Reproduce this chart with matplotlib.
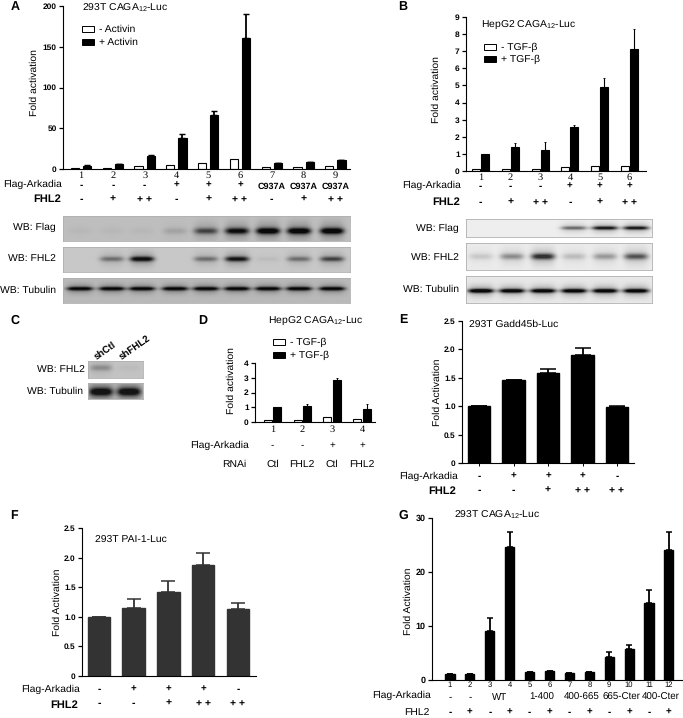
import matplotlib
matplotlib.use("Agg")
import matplotlib.pyplot as plt
import numpy as np
from matplotlib.transforms import blended_transform_factory

W = 683
H = 718

plt.rcParams['font.family'] = ['Liberation Sans', 'DejaVu Sans']
plt.rcParams['mathtext.default'] = 'regular'
plt.rcParams['font.size'] = 7
plt.rcParams['text.hinting'] = 'no_hinting'

# panel A
a_white = [1, 1.8, 3.5, 5.5, 7.5, 12, 2, 2.5, 3.5]
a_black = [4, 6, 15.5, 38.5, 66, 161, 7.5, 8, 11]
a_err = [0.4, 0.6, 2, 5, 5, 29, 0.3, 0.8, 0.5]
a_flag = ['-', '-', '-', '+', '+', '+', 'C937A', 'C937A', 'C937A']
a_fhl2 = ['-', '+', '+ +', '-', '+', '+ +', '-', '+', '+ +']

# panel B
b_white = [0.1, 0.1, 0.1, 0.25, 0.28, 0.28]
b_black = [1.0, 1.38, 1.2, 2.6, 4.9, 7.15]
b_err = [0.02, 0.25, 0.5, 0.1, 0.55, 1.15]
b_flag = ['-', '-', '-', '+', '+', '+']
b_fhl2 = ['-', '+', '+ +', '-', '+', '+ +']

# panel D
d_white = [0.15, 0.15, 0.33, 0.18]
d_black = [1.0, 1.1, 2.85, 0.9]
d_err = [0.05, 0.1, 0.1, 0.35]
d_flag = ['-', '-', '+', '+']
d_rnai = ['Ctl', 'FHL2', 'Ctl', 'FHL2']

# panel E
e_vals = [1.0, 1.47, 1.58, 1.9, 0.98]
e_err = [0, 0, 0.08, 0.13, 0.02]
e_flag = ['-', '+', '+', '+', '-']
e_fhl2 = ['-', '-', '+', '+ +', '+ +']

# panel F
f_vals = [1.0, 1.15, 1.42, 1.87, 1.14]
f_err = [0, 0.15, 0.19, 0.21, 0.1]
f_flag = ['-', '+', '+', '+', '-']
f_fhl2 = ['-', '-', '+', '+ +', '+ +']

# panel G
g_vals = [1.1, 1.1, 9.1, 24.7, 1.5, 1.65, 1.3, 1.45, 4.2, 5.7, 14.3, 24.1]
g_err = [0.1, 0.1, 2.4, 2.8, 0.05, 0.05, 0.05, 0.05, 1.0, 0.7, 2.3, 3.4]
g_flag = ['-', '-', 'WT', '1-400', '400-665', '665-Cter', '400-Cter']
g_flag_pos = [1, 2, 3.5, 5.6, 7.6, 9.6, 11.6]
g_fhl2 = ['-', '+', '-', '+', '-', '+', '-', '+', '-', '+', '-', '+']

# blots, band strength per lane
a_lanes = [80, 112, 142, 175, 206, 237, 268, 299, 332]
a_wb_flag = [0.03, 0.03, 0.03, 0.12, 0.55, 0.85, 1, 1, 1]
a_wb_fhl2 = [0, 0.4, 0.95, 0, 0.4, 0.85, 0.05, 0.4, 0.6]
a_wb_tub = [1, 1, 1, 1, 1, 1, 1, 1, 1]
b_lanes = [481, 512, 543, 574, 605, 636]
b_wb_flag = [0, 0, 0, 0.5, 0.85, 0.85]
b_wb_fhl2 = [0.15, 0.4, 0.85, 0.2, 0.35, 0.65]
b_wb_tub = [1, 0.95, 0.95, 0.95, 0.95, 0.95]
c_lanes = [101, 129]
c_wb_fhl2 = [0.35, 0.05]
c_wb_tub = [1, 1]

fig = plt.figure(figsize=(W / 100, H / 100), dpi=100)


def px_axes(x0, x1, ytop, ybottom):
    return fig.add_axes([x0 / W, 1 - ybottom / H, (x1 - x0) / W, (ybottom - ytop) / H])


def txt(x, y, s, ha='left', size=7.5, **kw):
    fig.text(x / W, 1 - y / H, s, ha=ha, va='center', size=size, **kw)


def bar_axes(x0, x1, ytop, ybottom, first, step, ymax, ticks, ticklabels, ticksize=6):
    ax = px_axes(x0, x1, ytop, ybottom)
    ax.set_xlim(1 - (first - x0) / step, 1 + (x1 - first) / step)
    ax.set_ylim(0, ymax)
    ax.set_yticks(ticks)
    ax.set_yticklabels(ticklabels, fontweight='bold', size=ticksize)
    ax.set_xticks([])
    ax.spines['top'].set_visible(False)
    ax.spines['right'].set_visible(False)
    ax.tick_params(axis='y', length=3, width=0.9, pad=1.5)
    ax.patch.set_alpha(0)
    return ax


def paired(ax, white, black, err, width, off, capsize=2, elw=1.3):
    xs = np.arange(1, len(white) + 1)
    ax.bar(xs - off, white, width, color='white', edgecolor='black', linewidth=0.8)
    ax.bar(xs + off, black, width, color='black', edgecolor='black', linewidth=0.8)
    ax.errorbar(xs + off, black, yerr=[np.zeros(len(err)), err], fmt='none', ecolor='black',
                elinewidth=elw, capsize=capsize, capthick=elw * 0.8)


def single(ax, vals, err, width, color, capsize):
    xs = np.arange(1, len(vals) + 1)
    ax.bar(xs, vals, width, color=color, edgecolor=color)
    ax.errorbar(xs, vals, yerr=[np.zeros(len(err)), err], fmt='none', ecolor=color,
                elinewidth=1.3, capsize=capsize, capthick=1.1)


def row(ax, xs, labels, y, size=7, **kw):
    trans = blended_transform_factory(ax.transData, fig.transFigure)
    for xv, lab in zip(xs, labels):
        ax.text(xv, 1 - y / H, lab, transform=trans, ha='center', va='center', size=size,
                clip_on=False, **kw)


def legend_boxes(x, y, step, labels):
    # key boxes and their labels, drawn in figure pixels
    for i, lab in enumerate(labels):
        yy = y + i * step
        fig.patches.append(plt.Rectangle((x / W, 1 - (yy + 3) / H), 12 / W, 6 / H,
                                         transform=fig.transFigure,
                                         facecolor='white' if i == 0 else 'black',
                                         edgecolor='black', linewidth=0.7))
        txt(x + 17, yy, lab, size=7.5)


def blot(x0, x1, ytop, ybottom, lanes, strengths, bg, frac, sig, half, ink=30):
    ax = px_axes(x0, x1, ytop, ybottom)
    xx, yy = np.meshgrid(np.arange(x0, x1) + 0.5, np.arange(ytop, ybottom) + 0.5)
    dark = np.zeros(xx.shape)
    yc = ytop + frac * (ybottom - ytop)
    for c, s in zip(lanes, strengths):
        dark += s * np.exp(-((xx - c) / half) ** 4) * np.exp(-((yy - yc) / sig) ** 2)
        dark += 0.3 * s * np.exp(-((xx - c) / half) ** 4) * np.exp(-((yy - yc) / (sig * 3)) ** 2)
    dark = np.clip(dark, 0, 1)
    ax.imshow(bg + (ink - bg) * dark, cmap='gray', vmin=0, vmax=255, aspect='auto',
              interpolation='bilinear')
    ax.set_xticks([])
    ax.set_yticks([])
    for s in ax.spines.values():
        s.set_color('#b0b0b0')
        s.set_linewidth(0.6)


# A
ax = bar_axes(63, 350, 6, 169, 81, 31.8, 200, [0, 50, 100, 150, 200], ['0', '50', '100', '150', '200'])
paired(ax, a_white, a_black, a_err, 0.26, 0.19)
row(ax, range(1, 10), range(1, 10), 176, size=7.5, family='Liberation Serif')
row(ax, range(1, 7), a_flag[:6], 185, fontweight='bold')
row(ax, range(7, 10), a_flag[6:], 187, size=6.5, fontweight='bold')
row(ax, range(1, 10), a_fhl2, 199, size=7.5, fontweight='bold')
txt(62, 184, 'Flag-Arkadia', ha='right')
txt(61, 199, 'FHL2', ha='right', size=8, fontweight='bold')
txt(82, 8, '293T CAGA$_{12}$-Luc')
txt(34, 83, 'Fold activation', ha='center', rotation=90)
legend_boxes(82, 29, 13, ['- Activin', '+ Activin'])
txt(15, 7, 'A', ha='center', size=9, fontweight='bold')
txt(56, 227, 'WB: Flag', ha='right')
txt(56, 258, 'WB: FHL2', ha='right')
txt(56, 290, 'WB: Tubulin', ha='right')
blot(63, 350, 216, 241, a_lanes, a_wb_flag, 190, 0.6, 3, 12, ink=10)
blot(63, 350, 247, 272, a_lanes, a_wb_fhl2, 200, 0.5, 2.2, 12, ink=15)
blot(63, 350, 278, 303, a_lanes, a_wb_tub, 185, 0.45, 1.6, 13, ink=5)

# B
ax = bar_axes(466, 646, 17, 171, 480.5, 29.8, 9, list(range(10)), [str(i) for i in range(10)])
paired(ax, b_white, b_black, b_err, 0.27, 0.15, capsize=1, elw=0.8)
row(ax, range(1, 7), range(1, 7), 178, size=7.5, family='Liberation Serif')
row(ax, range(1, 7), b_flag, 186, fontweight='bold')
row(ax, range(1, 7), b_fhl2, 202, size=7.5, fontweight='bold')
txt(461, 185, 'Flag-Arkadia', ha='right')
txt(460, 202, 'FHL2', ha='right', size=8, fontweight='bold')
txt(481, 25, 'HepG2 CAGA$_{12}$-Luc')
txt(436, 90, 'Fold activation', ha='center', rotation=90)
legend_boxes(484, 47, 12, ['- TGF-β', '+ TGF-β'])
txt(403, 7, 'B', ha='center', size=9, fontweight='bold')
txt(459, 228, 'WB: Flag', ha='right')
txt(459, 257, 'WB: FHL2', ha='right')
txt(459, 289, 'WB: Tubulin', ha='right')
blot(466, 652, 219, 237, b_lanes, b_wb_flag, 238, 0.5, 1.8, 13)
blot(466, 652, 243, 270, b_lanes, b_wb_fhl2, 235, 0.5, 3.0, 12, ink=50)
blot(466, 652, 276, 303, b_lanes, b_wb_tub, 232, 0.55, 2.0, 13, ink=10)

# C
txt(15, 321, 'C', ha='center', size=9, fontweight='bold')
txt(105, 351, 'shCtl', ha='center', size=7, fontweight='bold', rotation=35)
txt(135, 348, 'shFHL2', ha='center', size=7, fontweight='bold', rotation=35)
txt(85, 369, 'WB: FHL2', ha='right')
txt(83, 391, 'WB: Tubulin', ha='right')
blot(88, 143, 361, 378, c_lanes, c_wb_fhl2, 195, 0.4, 3, 11, ink=70)
blot(88, 143, 383, 399, c_lanes, c_wb_tub, 185, 0.55, 4, 12, ink=20)

# D
ax = bar_axes(255, 375, 363, 422, 272.5, 29.8, 4, [0, 1, 2, 3, 4], ['0', '1', '2', '3', '4'])
paired(ax, d_white, d_black, d_err, 0.27, 0.16, capsize=1, elw=0.8)
row(ax, range(1, 5), range(1, 5), 430, size=7.5, family='Liberation Serif')
row(ax, range(1, 5), d_flag, 445)
row(ax, range(1, 5), d_rnai, 464, size=7.5)
txt(249, 445, 'Flag-Arkadia', ha='right')
txt(246, 464, 'RNAi', ha='right')
txt(268, 321, 'HepG2 CAGA$_{12}$-Luc')
txt(231, 381, 'Fold activation', ha='center', rotation=90)
legend_boxes(273, 342, 13, ['- TGF-β', '+ TGF-β'])
txt(203, 321, 'D', ha='center', size=9, fontweight='bold')

# E
ax = bar_axes(462, 634, 321, 463, 479, 34.5, 2.5, [0, 0.5, 1, 1.5, 2, 2.5], ['0', '0.5', '1.0', '1.5', '2.0', '2.5'])
single(ax, e_vals, e_err, 0.65, 'black', 6)
ax.set_xticks(range(1, 6))
ax.set_xticklabels([])
ax.tick_params(axis='x', length=2, width=0.7)
row(ax, range(1, 6), e_flag, 476, fontweight='bold')
row(ax, range(1, 6), e_fhl2, 490, size=7.5, fontweight='bold')
txt(458, 476, 'Flag-Arkadia', ha='right')
txt(456, 491, 'FHL2', ha='right', size=8, fontweight='bold')
txt(469, 324, '293T Gadd45b-Luc')
txt(437, 392, 'Fold Activation', ha='center', rotation=90)
txt(403, 320, 'E', ha='center', size=9, fontweight='bold')

# F
ax = bar_axes(82, 256, 528, 676, 99, 34.7, 2.5, [0, 0.5, 1, 1.5, 2, 2.5], ['0', '0.5', '1.0', '1.5', '2.0', '2.5'])
single(ax, f_vals, f_err, 0.65, '#333333', 4.7)
row(ax, range(1, 6), f_flag, 689, fontweight='bold')
row(ax, range(1, 6), f_fhl2, 703, size=7.5, fontweight='bold')
txt(80, 689, 'Flag-Arkadia', ha='right')
txt(78, 705, 'FHL2', ha='right', size=8, fontweight='bold')
txt(95, 540, '293T PAI-1-Luc')
txt(57, 602, 'Fold Activation', ha='center', rotation=90)
txt(14, 516, 'F', ha='center', size=9, fontweight='bold')

# G
ax = bar_axes(432, 682, 518, 680, 450, 19.9, 30, [0, 10, 20, 30], ['0', '10', '20', '30'], ticksize=6.5)
single(ax, g_vals, g_err, 0.46, 'black', 2)
row(ax, range(1, 13), range(1, 13), 685, size=5.5)
row(ax, g_flag_pos, g_flag, 697, size=7)
row(ax, range(1, 13), g_fhl2, 712, fontweight='bold')
txt(431, 695, 'Flag-Arkadia', ha='right')
txt(430, 712, 'FHL2', ha='right')
txt(454, 515, '293T CAGA$_{12}$-Luc')
txt(408, 601, 'Fold Activation', ha='center', rotation=90)
txt(403, 516, 'G', ha='center', size=9, fontweight='bold')

fig.savefig('out.png', dpi=100)
